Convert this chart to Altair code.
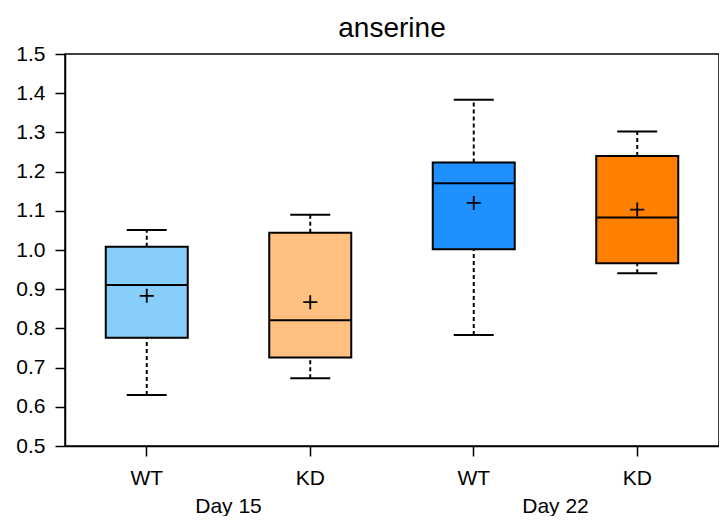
import altair as alt
import pandas as pd

groups = ["WT15", "KD15", "WT22", "KD22"]
days = ["Day 15", "Day 15", "Day 22", "Day 22"]
lower = [0.630, 0.673, 0.783, 0.941]
q1 = [0.776, 0.726, 1.002, 0.966]
median = [0.911, 0.821, 1.170, 1.083]
q3 = [1.008, 1.044, 1.223, 1.240]
upper = [1.051, 1.090, 1.383, 1.302]
mean = [0.883, 0.867, 1.120, 1.103]
colors = ["#87CEFA", "#FFC080", "#1E90FF", "#FF8000"]

day_names = ["Day 15", "Day 22"]
day_anchor = ["KD15", "KD22"]

df = pd.DataFrame({"grp": groups, "day": days, "lower": lower, "q1": q1,
                   "median": median, "q3": q3, "upper": upper, "mean": mean})
ddf = pd.DataFrame({"grp": day_anchor, "day": day_names})

FONT = "Liberation Sans"
xscale = alt.Scale(domain=groups, paddingInner=0, paddingOuter=0)
yscale = alt.Scale(domain=[0.5, 1.5], nice=False, zero=False)

xaxis = alt.Axis(title=None, labelExpr="slice(datum.value, 0, 2)", labelAngle=0,
                 labelFontSize=21, labelFont=FONT, labelColor="black",
                 tickSize=10, tickColor="black", tickWidth=1.5,
                 domainColor="black", domainWidth=1.5, labelPadding=11)
yaxis = alt.Axis(title=None, values=[0.5 + i / 10 for i in range(11)], format=".1f",
                 labelFontSize=21, labelFont=FONT, labelColor="black", labelOverlap=False,
                 tickSize=10, tickColor="black", tickWidth=1.5,
                 domainColor="black", domainWidth=1.5, grid=False, labelPadding=10)


def X():
    return alt.X("grp:N", scale=xscale, sort=groups, axis=xaxis)


def Y(field):
    return alt.Y(field + ":Q", scale=yscale, axis=yaxis)


base = alt.Chart(df)

wh_hi = base.mark_rule(color="black", strokeWidth=2, strokeDash=[4, 3]).encode(
    x=X(), y=Y("q3"), y2="upper:Q")
wh_lo = base.mark_rule(color="black", strokeWidth=2, strokeDash=[4, 3]).encode(
    x=X(), y=Y("lower"), y2="q1:Q")
caps_hi = base.mark_tick(color="black", size=40, thickness=2, orient="horizontal", opacity=1).encode(
    x=X(), y=Y("upper"))
caps_lo = base.mark_tick(color="black", size=40, thickness=2, orient="horizontal", opacity=1).encode(
    x=X(), y=Y("lower"))
box = base.mark_bar(width=82, stroke="black", strokeWidth=2, opacity=1).encode(
    x=X(), y=Y("q1"), y2="q3:Q",
    fill=alt.Fill("grp:N", scale=alt.Scale(domain=groups, range=colors), legend=None))
med = base.mark_tick(color="black", size=82, thickness=2, orient="horizontal", opacity=1).encode(
    x=X(), y=Y("median"))
mn = base.mark_point(shape="M-1,0L1,0M0,-1L0,1", size=196, filled=False, stroke="black",
                     strokeWidth=1.8, opacity=1).encode(
    x=X(), y=Y("mean"))
daytxt = alt.Chart(ddf).mark_text(fontSize=21, font=FONT, color="black", baseline="middle").encode(
    x=alt.X("grp:N", scale=xscale, sort=groups, axis=xaxis, bandPosition=0),
    y=alt.value(453), text="day:N")

chart = alt.layer(wh_hi, wh_lo, caps_hi, caps_lo, box, med, mn, daytxt).properties(
    width=654, height=392,
    title=alt.Title("anserine", fontSize=28, font=FONT, fontWeight="normal", color="black",
                    offset=0),
    autosize=alt.AutoSizeParams(type="none"),
    padding={"left": 57, "top": 46, "right": 0, "bottom": 70},
).configure_view(stroke="black", strokeWidth=1.5)

chart.save("out.html", embed_options={"renderer": "svg", "actions": False})
